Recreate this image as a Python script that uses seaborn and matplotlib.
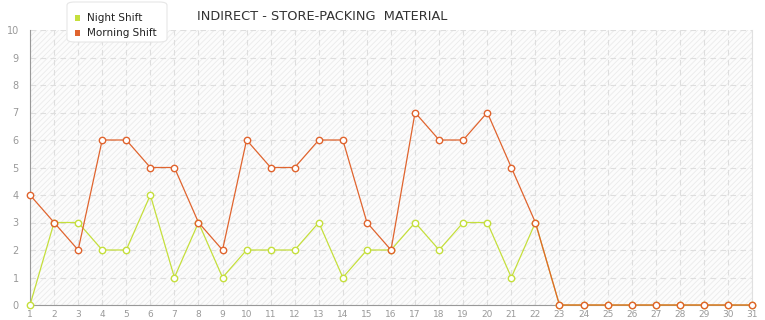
import matplotlib
matplotlib.use("Agg")
import matplotlib.pyplot as plt
import seaborn as sns
import pandas as pd
import numpy as np

days = list(range(1, 32))
night_shift = [0, 3, 3, 2, 2, 4, 1, 3, 1, 2, 2, 2, 3, 1, 2, 2, 3, 2, 3, 3, 1, 3,
               0, 0, 0, 0, 0, 0, 0, 0, 0]
morning_shift = [4, 3, 2, 6, 6, 5, 5, 3, 2, 6, 5, 5, 6, 6, 3, 2, 7, 6, 6, 7, 5, 3,
                 0, 0, 0, 0, 0, 0, 0, 0, 0]
series_names = ["Night Shift", "Morning Shift"]
colors = ["#c5df3c", "#e0642e"]
title = "INDIRECT - STORE-PACKING  MATERIAL"

df = pd.DataFrame({
    "day": days * 2,
    "value": night_shift + morning_shift,
    "series": [series_names[0]] * len(days) + [series_names[1]] * len(days),
})

sns.set_style("white")
plt.rcParams["font.family"] = ["DejaVu Sans"]
plt.rcParams["hatch.color"] = "#ebebeb"
plt.rcParams["hatch.linewidth"] = 0.6

fig = plt.figure(figsize=(7.65, 3.2), dpi=100)
ax = fig.add_axes([30 / 765, 15 / 320, 722 / 765, 275 / 320])
ax.patch.set_facecolor("#fcfcfc")
ax.patch.set_hatch("//////")
ax.patch.set_edgecolor("#ebebeb")

sns.lineplot(data=df, x="day", y="value", hue="series", palette=colors,
             hue_order=series_names, ax=ax, linewidth=0.9, marker="o",
             markersize=4.6, markerfacecolor="white", markeredgewidth=1.0,
             legend=False, zorder=3)
for line, c in zip(ax.lines, colors):
    line.set_markeredgecolor(c)
    line.set_clip_on(False)

ax.set_xlim(1, 31)
ax.set_ylim(0, 10)
ax.set_xticks(days)
ax.set_yticks(range(0, 11))
ax.set_xlabel("")
ax.set_ylabel("")
ax.grid(True, color="#dedede", linestyle=(0, (5, 4)), linewidth=0.8)
ax.set_axisbelow(True)
ax.spines["top"].set_visible(False)
ax.spines["right"].set_color("#e0e0e0")
ax.spines["left"].set_color("#999999")
ax.spines["bottom"].set_color("#999999")
ax.tick_params(axis="x", labelsize=6.5, colors="#999999", length=3, width=0.8,
               labelcolor="#999999", pad=0.5)
ax.tick_params(axis="y", labelsize=7, colors="#999999", length=6, width=0.8,
               labelcolor="#999999", pad=2)

fig.text(322 / 765, 1 - 17 / 320, title, ha="center", va="center",
         fontsize=9.3, color="#333333")

from matplotlib.patches import FancyBboxPatch, Rectangle
box = FancyBboxPatch((67 / 765, 1 - 42 / 320), 100 / 765, 40 / 320,
                     boxstyle="round,pad=0,rounding_size=0.01",
                     transform=fig.transFigure, facecolor="white",
                     edgecolor="#e6e6e6", linewidth=0.8, zorder=10)
fig.patches.append(box)
for i, (name, c) in enumerate(zip(series_names, colors)):
    yc = 1 - (18 + i * 15) / 320
    fig.patches.append(Rectangle((75 / 765, yc - 3 / 320), 5 / 765, 6 / 320,
                                 transform=fig.transFigure, facecolor=c,
                                 edgecolor="none", zorder=11))
    fig.text(87 / 765, yc, name, ha="left", va="center", fontsize=7.5,
             color="#222222", zorder=12)

fig.savefig("out.png", dpi=100)
